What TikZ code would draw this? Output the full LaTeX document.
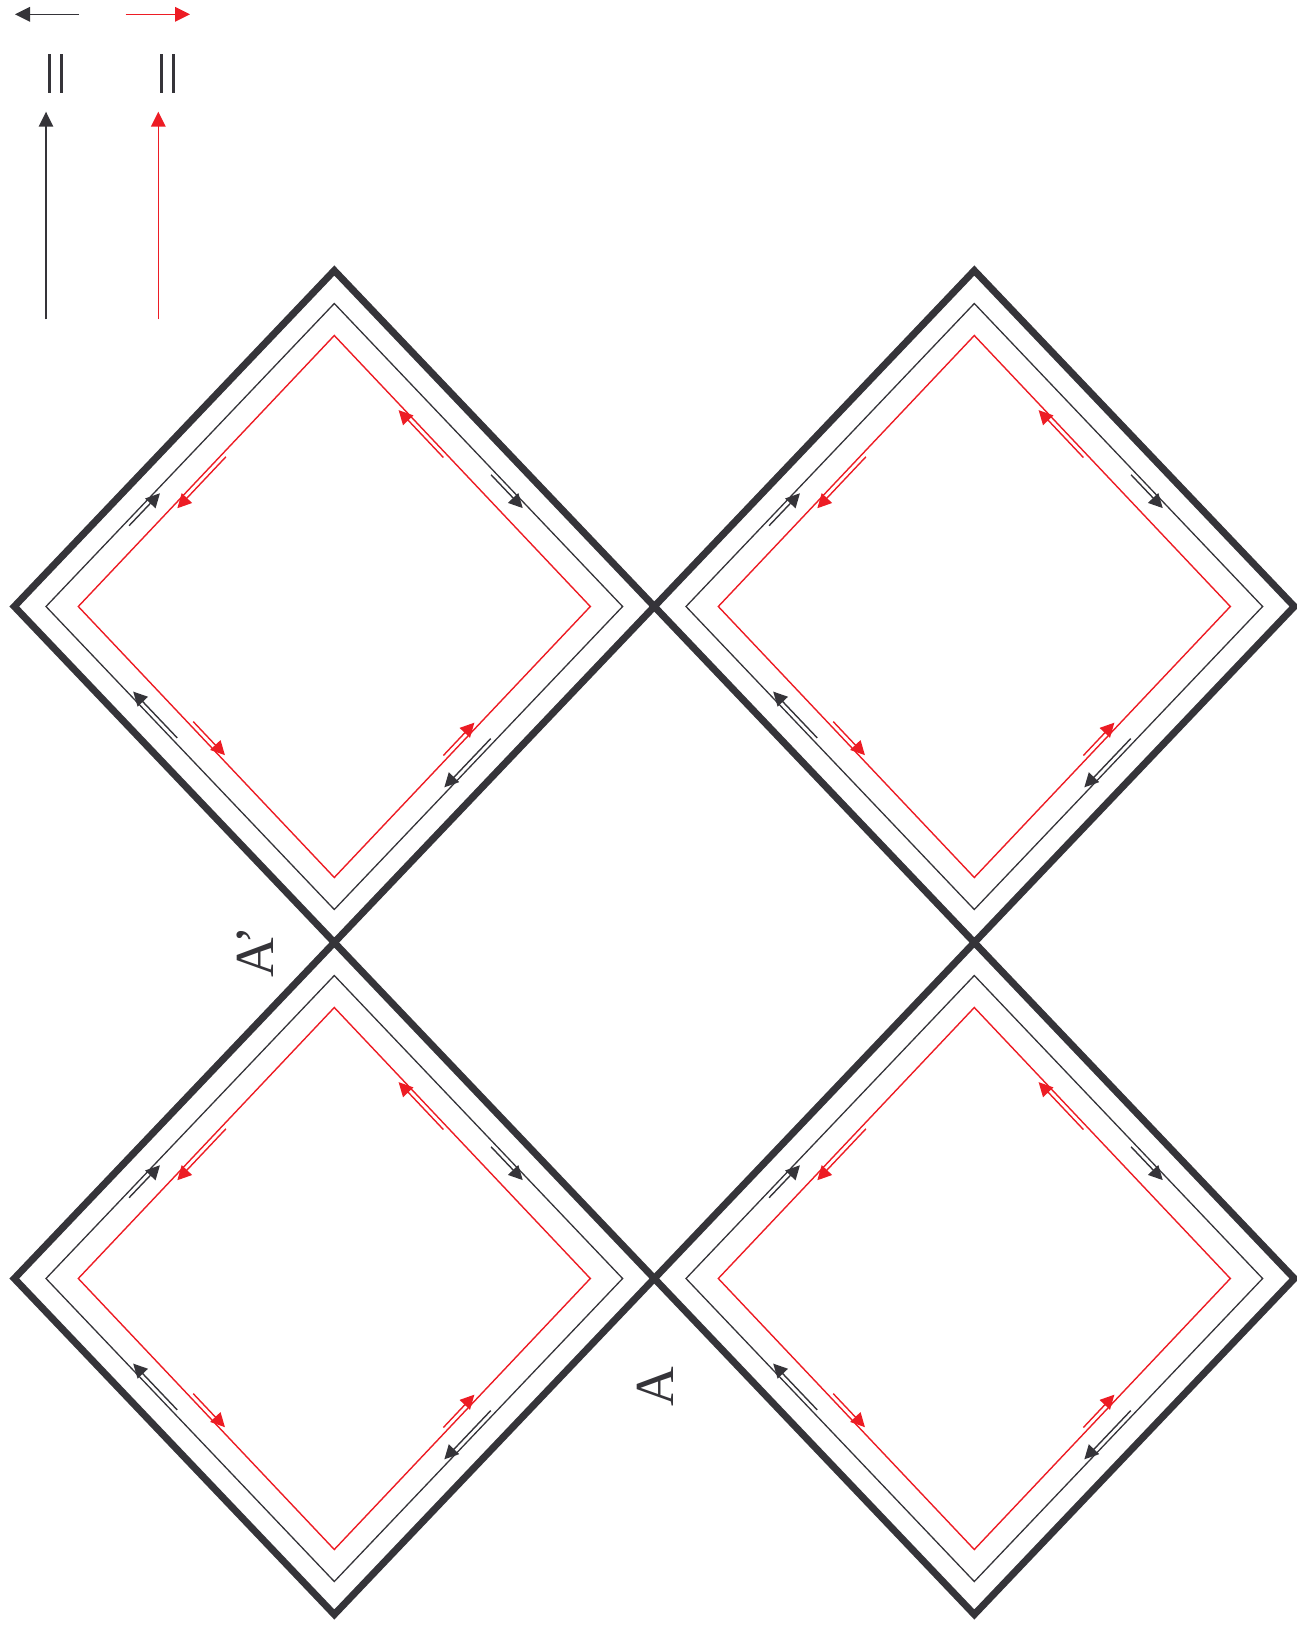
\documentclass[tikz,border=0pt]{standalone}
\usepackage{fontspec}
\setmainfont{Liberation Serif}
\usetikzlibrary{arrows.meta,calc}
\definecolor{dk}{RGB}{53,52,57}
\definecolor{rd}{RGB}{237,28,36}
\newcommand\blackarr[4]{\draw[barrow] ($(#1)!#3!(#2)!4.5pt!-90:(#2)$) -- ($(#1)!#4!(#2)!4.5pt!-90:(#2)$);}
\newcommand\redarr[4]{\draw[rarrow] ($(#1)!#3!(#2)!4.5pt!90:(#2)$) -- ($(#1)!#4!(#2)!4.5pt!90:(#2)$);}
\newcommand\drawcell[2]{%
\begin{scope}[shift={(#1,#2)}]
  \draw[outerline] (-320,0) -- (0,-336) -- (320,0) -- (0,336) -- cycle;
  \coordinate (tL) at (-288.3,0);
  \coordinate (tT) at (0,-303);
  \coordinate (tR) at (288.3,0);
  \coordinate (tB) at (0,303);
  \draw[thinline] (tL) -- (tT) -- (tR) -- (tB) -- cycle;
  \coordinate (rL) at (-256,0);
  \coordinate (rT) at (0,-271);
  \coordinate (rR) at (256,0);
  \coordinate (rB) at (0,271);
  \draw[redline] (rL) -- (rT) -- (rR) -- (rB) -- cycle;
  \blackarr{tL}{tT}{0.277}{0.384}
  \blackarr{tT}{tR}{0.555}{0.665}
  \blackarr{tR}{tB}{0.446}{0.607}
  \blackarr{tB}{tL}{0.556}{0.709}
  \redarr{rT}{rL}{0.436}{0.626}
  \redarr{rR}{rT}{0.561}{0.736}
  \redarr{rB}{rR}{0.439}{0.560}
  \redarr{rL}{rB}{0.436}{0.560}
\end{scope}}
\begin{document}
\begin{tikzpicture}[x=1pt,y=-1pt,
  outerline/.style={draw=dk,line width=7pt,line join=miter},
  thinline/.style={draw=dk,line width=1.3pt},
  redline/.style={draw=rd,line width=1.4pt},
  barrow/.style={draw=dk,line width=1.4pt,-{Triangle[length=14pt,width=14pt]}},
  rarrow/.style={draw=rd,line width=1.4pt,-{Triangle[length=14pt,width=14pt]}},
  legblack/.style={draw=dk,line width=1.6pt,-{Triangle[length=15pt,width=14.5pt]}},
  legred/.style={draw=rd,line width=1.6pt,-{Triangle[length=15pt,width=14.5pt]}},
  eqbar/.style={draw=dk,line width=3.2pt},
  lbl/.style={rotate=90,anchor=base west,inner sep=0pt,text=dk,font=\fontsize{55}{60}\selectfont}]
\useasboundingbox (0,0) rectangle (1297,1630);
% legend
\draw[legblack] (79,14.3) -- (15,14.3);
\draw[legred] (125.7,14.3) -- (190,14.3);
\draw[eqbar] (49.3,54) -- (49.3,93.3);
\draw[eqbar] (61.3,54) -- (61.3,93.3);
\draw[eqbar] (161.7,54) -- (161.7,93.3);
\draw[eqbar] (173.3,54) -- (173.3,93.3);
\draw[legblack] (46,319.3) -- (46,111.7);
\draw[legred] (158.3,319.3) -- (158.3,111.7);
% cells
\drawcell{334.3}{606.5}
\drawcell{974.3}{606.5}
\drawcell{334.3}{1278.5}
\drawcell{974.3}{1278.5}
% labels
\node[lbl] (Aprime) at (273.3,978) {A’};
\node[lbl] (Alabel) at (673.3,1407) {A};
\end{tikzpicture}
\end{document}
